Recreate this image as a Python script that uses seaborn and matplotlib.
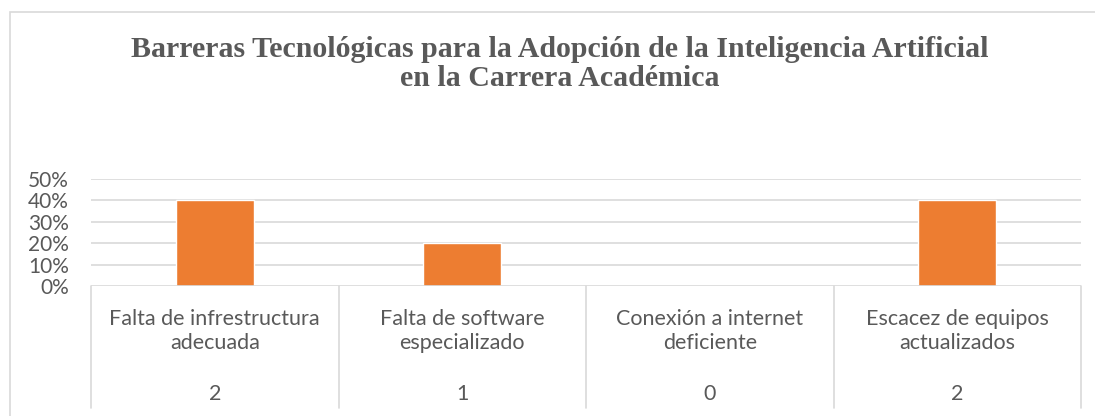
import matplotlib
matplotlib.use("Agg")
import matplotlib.pyplot as plt
import seaborn as sns
import pandas as pd
from matplotlib.patches import Rectangle
from matplotlib.lines import Line2D
import matplotlib.transforms as mtransforms

categories = ["Falta de infrestructura\nadecuada", "Falta de software\nespecializado",
              "Conexión a internet\ndeficiente", "Escacez de equipos\nactualizados"]
percentages = [0.40, 0.20, 0.00, 0.40]
counts = [2, 1, 0, 2]
yticks = [0.0, 0.1, 0.2, 0.3, 0.4, 0.5]
ytick_labels = ["0%", "10%", "20%", "30%", "40%", "50%"]
title = "Barreras Tecnológicas para la Adopción de la Inteligencia Artificial\nen la Carrera Académica"

sns.set_theme(style="white")
plt.rcParams['font.family'] = ['Lato', 'DejaVu Sans']

W, H = 1095, 416
fig = plt.figure(figsize=(W/100, H/100), dpi=100)
gray = "#595959"
grid = "#D9D9D9"

# outer chart border
fig.patches.append(Rectangle((10/W, -0.2), 1.2, (H-12)/H + 0.2, transform=fig.transFigure,
                             fill=False, edgecolor="#D9D9D9", linewidth=1.2))

left, right, top, bottom = 91, 1081, 179, 286
ax = fig.add_axes([left/W, (H-bottom)/H, (right-left)/W, (bottom-top)/H])

df = pd.DataFrame({"cat": categories, "pct": percentages})
sns.barplot(data=df, x="cat", y="pct", color="#ED7D31", width=0.315, ax=ax,
            saturation=1, zorder=3)
ax.set_xlim(-0.5, len(categories) - 0.5)
ax.set_ylim(0, 0.5)
ax.set_yticks(yticks)
ax.set_yticklabels(ytick_labels, color=gray, fontsize=15)
ax.tick_params(axis="y", length=0, pad=16)
ax.set_xticks([])
ax.set_xlabel("")
ax.set_ylabel("")
for s in ax.spines.values():
    s.set_visible(False)
for y in yticks[1:]:
    ax.axhline(y, color=grid, linewidth=1.2, zorder=1)
ax.axhline(0, color=grid, linewidth=1.2, zorder=4)

# category table below
trans = mtransforms.blended_transform_factory(ax.transData, ax.transAxes)
h = bottom - top
def ay(py):
    return (bottom - py) / h

for i in range(len(categories) + 1):
    ax.add_line(Line2D([i - 0.5, i - 0.5], [0, ay(408)], transform=trans, color=grid,
                       linewidth=1.2, clip_on=False))
for i, (c, n) in enumerate(zip(categories, counts)):
    ax.text(i, ay(331), c, transform=trans, ha="center", va="center", color=gray,
            fontsize=15.5, linespacing=1.3)
    ax.text(i, ay(394), str(n), transform=trans, ha="center", va="center", color=gray,
            fontsize=15.5)

fig.text(560/W, (H-64)/H, title, ha="center", va="center", color=gray, fontsize=21.5,
         fontweight="bold", family=["Liberation Serif", "DejaVu Serif"], linespacing=1.05)

fig.savefig("out.png", dpi=100)
